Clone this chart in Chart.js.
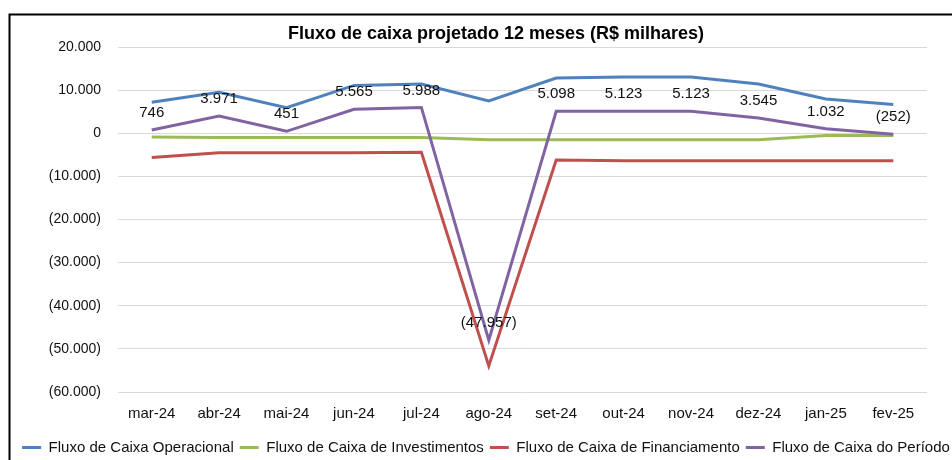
<!DOCTYPE html>
<html>
<head>
<meta charset="utf-8">
<script src="https://cdn.jsdelivr.net/npm/chart.js@4/dist/chart.umd.min.js"></script>
<style>
  html, body { margin: 0; padding: 0; background: #fff; overflow: hidden; }
  #wrap { position: relative; width: 952px; height: 460px; }
</style>
</head>
<body>
<div id="wrap"><canvas id="c" width="952" height="460"></canvas></div>
<script>
const categories = ['mar-24','abr-24','mai-24','jun-24','jul-24','ago-24','set-24','out-24','nov-24','dez-24','jan-25','fev-25'];
const operacional = [7200, 9500, 5950, 11100, 11400, 7500, 12800, 13050, 13050, 11400, 7950, 6650];
const investimentos = [-850, -1000, -1000, -1000, -1000, -1500, -1500, -1500, -1500, -1500, -500, -500];
const financiamento = [-5600, -4550, -4500, -4550, -4400, -53950, -6200, -6400, -6400, -6400, -6400, -6400];
const periodo = [746, 3971, 451, 5565, 5988, -47957, 5098, 5123, 5123, 3545, 1032, -252];
const seriesNames = ['Fluxo de Caixa Operacional','Fluxo de Caixa de Investimentos','Fluxo de Caixa de Financiamento','Fluxo de Caixa do Período'];
const yTicks = { min: -60000, max: 20000, step: 10000 };
const titleText = 'Fluxo de caixa projetado 12 meses (R$ milhares)';

function fmt(v) {
  const s = Math.abs(Math.round(v)).toString().replace(/\B(?=(\d{3})+(?!\d))/g, '.');
  return v < 0 ? '(' + s + ')' : s;
}

Chart.defaults.font.family = "'Liberation Sans', Arial, sans-serif";
Chart.defaults.color = '#111';

const bgPlugin = {
  id: 'bg',
  beforeDraw(chart) {
    const ctx = chart.ctx;
    ctx.save();
    ctx.fillStyle = '#fff';
    ctx.fillRect(0, 0, chart.width, chart.height);
    ctx.strokeStyle = '#000';
    ctx.lineWidth = 2;
    ctx.strokeRect(9.5, 14.5, 2000, 2000);
    ctx.restore();
  }
};

const shiftPlugin = {
  id: 'shift',
  afterLayout(chart) {
    const t = chart.titleBlock;
    if (t) { t.left += 20; t.right += 20; }
    const l = chart.legend;
    if (l) { l.left += 10; l.right += 10; l.top += 5; l.bottom += 5; }
  }
};

const labelPlugin = {
  id: 'dlabels',
  afterDatasetsDraw(chart) {
    const meta = chart.getDatasetMeta(3);
    const ctx = chart.ctx;
    ctx.save();
    ctx.font = "15px 'Liberation Sans', Arial, sans-serif";
    ctx.fillStyle = '#111';
    ctx.textAlign = 'center';
    ctx.textBaseline = 'middle';
    meta.data.forEach((pt, i) => {
      ctx.fillText(fmt(periodo[i]), pt.x, pt.y - 17);
    });
    ctx.restore();
  }
};

const colors = ['#4F81BD', '#9BBB59', '#C0504D', '#8064A2'];
const values = [operacional, investimentos, financiamento, periodo];

new Chart(document.getElementById('c'), {
  type: 'line',
  data: {
    labels: categories,
    datasets: values.map((d, i) => ({
      label: seriesNames[i],
      data: d,
      borderColor: colors[i],
      backgroundColor: colors[i],
      borderWidth: 3,
      pointRadius: 0,
      tension: 0,
      fill: false,
      order: 4 - i,
      yAxisID: 'y'
    }))
  },
  options: {
    responsive: false,
    animation: false,
    layout: { padding: { top: 14, left: 0, right: 0, bottom: 0 } },
    plugins: {
      title: {
        display: true,
        text: titleText,
        color: '#000',
        font: { size: 18, weight: 'bold' },
        padding: { top: 9.2, bottom: 2.2 }
      },
      legend: {
        position: 'bottom',
        labels: {
          boxWidth: 19,
          boxHeight: 3,
          padding: 6,
          color: '#111',
          font: { size: 15 },
          sort: (a, b) => a.datasetIndex - b.datasetIndex,
          generateLabels: (chart) => Chart.defaults.plugins.legend.labels.generateLabels(chart).map(l => Object.assign(l, { lineWidth: 0 }))
        }
      },
      tooltip: { enabled: false }
    },
    scales: {
      x: {
        offset: true,
        grid: { display: false, drawTicks: false },
        border: { display: false },
        ticks: { font: { size: 15 }, color: '#111', padding: 13, maxRotation: 0, autoSkip: false },
        afterFit(s) { s.height = 37; }
      },
      y: {
        min: yTicks.min,
        max: yTicks.max,
        grid: { color: '#D9D9D9', lineWidth: 1, drawTicks: false },
        border: { display: false },
        ticks: { stepSize: yTicks.step, font: { size: 14 }, color: '#111', padding: 17, callback: (v) => fmt(v) },
        afterFit(s) { s.width = 118; }
      },
      y2: {
        position: 'right',
        display: true,
        grid: { display: false, drawTicks: false },
        border: { display: false },
        ticks: { display: false },
        afterFit(s) { s.width = 25; }
      }
    }
  },
  plugins: [bgPlugin, shiftPlugin, labelPlugin]
});
</script>
</body>
</html>
